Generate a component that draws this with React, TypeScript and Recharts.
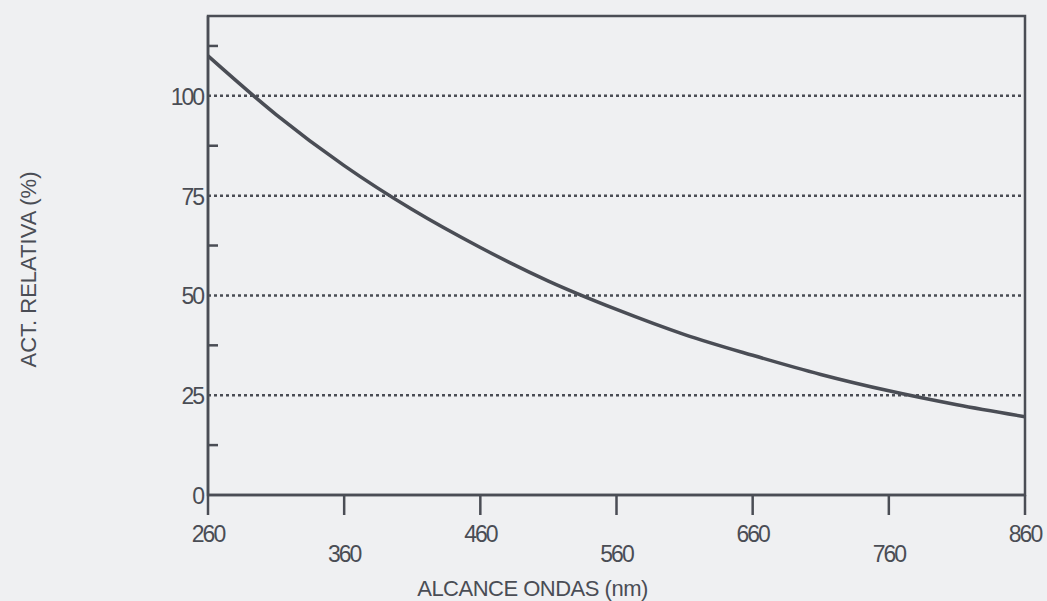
import { LineChart, Line, XAxis, YAxis, ReferenceLine, ReferenceArea, Label } from 'recharts';

// longitud de onda (nm) vs actividad relativa (%)
const longitudes = [260, 310, 360, 410, 460, 510, 560, 610, 660, 710, 760, 810, 860];
const actividad = [110, 95.3, 82.5, 71.5, 62, 53.6, 46.5, 40.2, 35, 30.2, 26.1, 22.6, 19.6];

const xTicks = [260, 360, 460, 560, 660, 760, 860];
const yTicks = [0, 12.5, 25, 37.5, 50, 62.5, 75, 87.5, 100, 112.5];
const yLabels = [0, 25, 50, 75, 100];
const gridValues = [25, 50, 75, 100];

const data = longitudes.map((nm, i) => ({ nm, act: actividad[i] }));

const INK = '#4a4d55';
const FONT = '"Liberation Sans", Arial, sans-serif';

const XTick = ({ x, y, payload, index }: any) => (
  <text
    x={x}
    y={y + (index % 2 === 0 ? 27 : 47)}
    textAnchor="middle"
    fontSize={23}
    letterSpacing={-2}
    fontFamily={FONT}
    fill={INK}
  >
    {payload.value}
  </text>
);

const YTick = ({ x, y, payload }: any) => {
  const v = payload.value;
  const labelled = yLabels.includes(v);
  return (
    <g>
      {!labelled && <line x1={x} x2={x + 10} y1={y} y2={y} stroke={INK} strokeWidth={2.5} />}
      {labelled && (
        <text x={x - 5} y={y + 9} textAnchor="end" fontSize={23} letterSpacing={-2} fontFamily={FONT} fill={INK}>
          {v}
        </text>
      )}
    </g>
  );
};

const YTitle = ({ viewBox }: any) => {
  const cx = 28;
  const cy = viewBox.y + viewBox.height / 2 + 14;
  return (
    <text
      x={cx}
      y={cy}
      transform={`rotate(-90, ${cx}, ${cy})`}
      textAnchor="middle"
      dominantBaseline="central"
      fontSize={22}
      fontFamily={FONT}
      fill={INK}
    >
      ACT. RELATIVA (%)
    </text>
  );
};

export default function App() {
  return (
    <div style={{ position: 'absolute', left: 0, top: 0, width: 1047, height: 601, background: '#eff0f2' }}>
      <LineChart width={1047} height={601} data={data} margin={{ top: 16, right: 22, left: 0, bottom: 0 }}>
        <XAxis
          dataKey="nm"
          type="number"
          domain={[260, 860]}
          ticks={xTicks}
          height={106}
          tickSize={20}
          tickMargin={0}
          axisLine={{ stroke: INK, strokeWidth: 2.5 }}
          tickLine={{ stroke: INK, strokeWidth: 2.5 }}
          tick={<XTick />}
          interval={0}
        >
          <Label
            value="ALCANCE ONDAS (nm)"
            position="insideBottom"
            offset={5}
            dx={-84}
            style={{ fontSize: 22, fontFamily: FONT, fill: INK, letterSpacing: -0.5 }}
          />
        </XAxis>
        <YAxis
          type="number"
          domain={[0, 120]}
          ticks={yTicks}
          width={208}
          tickSize={0}
          tickMargin={0}
          tickLine={false}
          axisLine={{ stroke: INK, strokeWidth: 2.5 }}
          tick={<YTick />}
          interval={0}
        >
          <Label content={<YTitle />} />
        </YAxis>
        {gridValues.map((v) => (
          <ReferenceLine key={v} y={v} stroke={INK} strokeWidth={2.5} strokeDasharray="3 3" />
        ))}
        <ReferenceArea x1={260} x2={860} y1={0} y2={120} fill="none" stroke={INK} strokeWidth={2.5} />
        <Line
          type="monotone"
          dataKey="act"
          stroke={INK}
          strokeWidth={3.5}
          dot={false}
          isAnimationActive={false}
        />
      </LineChart>
    </div>
  );
}
